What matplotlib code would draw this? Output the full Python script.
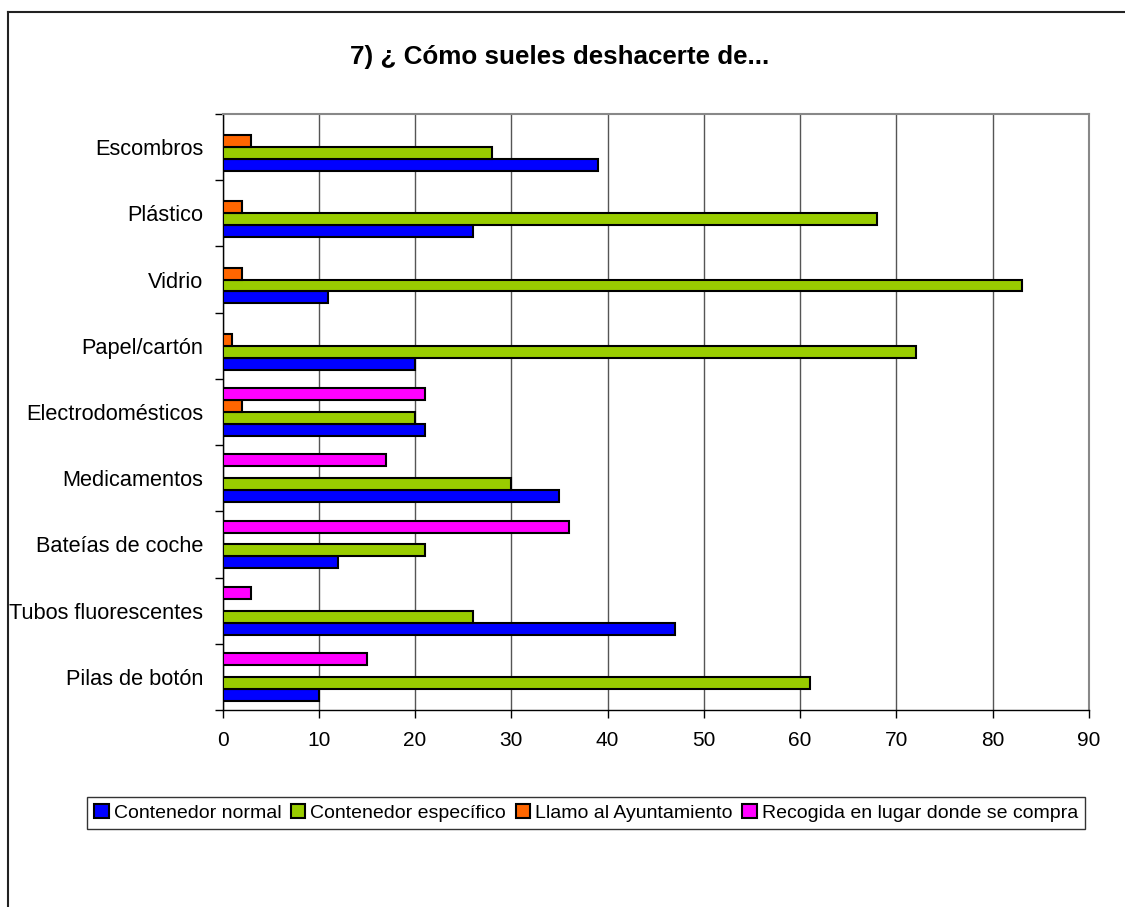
import numpy as np
import matplotlib.pyplot as plt
from matplotlib.lines import Line2D

plt.rcParams['font.family'] = ['Liberation Sans', 'DejaVu Sans']

categorias = ['Escombros', 'Plástico', 'Vidrio', 'Papel/cartón', 'Electrodomésticos',
              'Medicamentos', 'Bateías de coche', 'Tubos fluorescentes', 'Pilas de botón']

# None = sin barra
normal = [39, 26, 11, 20, 21, 35, 12, 47, 10]
especifico = [28, 68, 83, 72, 20, 30, 21, 26, 61]
ayuntamiento = [3, 2, 2, 1, 2, None, None, None, None]
recogida = [None, None, None, None, 21, 17, 36, 3, 15]

series = ['Contenedor normal', 'Contenedor específico', 'Llamo al Ayuntamiento',
          'Recogida en lugar donde se compra']
colores = ['#0000FF', '#99CC00', '#FF6600', '#FF00FF']

fig = plt.figure(figsize=(11.25, 9.07), dpi=100)
ax = fig.add_axes([0.1978, 0.2172, 0.968 - 0.1978, 0.8743 - 0.2172])

n = len(categorias)
pos = np.arange(n)[::-1].astype(float)  # Escombros arriba
h = 0.18
datos = [normal, especifico, ayuntamiento, recogida]
for k, (vals, col, lab) in enumerate(zip(datos, colores, series)):
    ys = [p + (k - 1.5) * h for p, v in zip(pos, vals) if v is not None]
    xs = [v for v in vals if v is not None]
    ax.barh(ys, xs, height=h, color=col, edgecolor='black', linewidth=1.5,
            label=lab, zorder=3)

ax.set_xlim(0, 90)
ax.set_ylim(-0.5, n - 0.5)
ax.set_xticks(np.arange(0, 91, 10))
ax.tick_params(axis='x', labelsize=15, length=6, width=1, direction='out', pad=9)
ax.set_yticks(pos)
ax.set_yticklabels(categorias, fontsize=15.7)
ax.tick_params(axis='y', which='major', length=0, pad=14)
ax.set_yticks(np.arange(n + 1) - 0.5, minor=True)
ax.tick_params(axis='y', which='minor', length=6, width=1, direction='out')
ax.xaxis.grid(True, color='#555555', linewidth=1, zorder=0)
ax.set_axisbelow(True)

for s in ['top', 'right']:
    ax.spines[s].set_color('#888888')
    ax.spines[s].set_linewidth(1.5)
for s in ['left', 'bottom']:
    ax.spines[s].set_color('black')
    ax.spines[s].set_linewidth(1)

fig.text(0.497, 0.937, '7) ¿ Cómo sueles deshacerte de...', ha='center', va='center',
         fontsize=18.7, fontweight='bold')

leg = fig.legend(loc='center', bbox_to_anchor=(0.521, 0.1036), ncol=4, fontsize=14.0,
                 frameon=True, fancybox=False, edgecolor='black', handlelength=0.75,
                 handleheight=0.75, handletextpad=0.25, columnspacing=0.5,
                 borderpad=0.35, borderaxespad=0)
leg.get_frame().set_linewidth(1)

# marco exterior del gráfico
fig.add_artist(Line2D([8 / 1125, 8 / 1125], [0, 1 - 12 / 907], color='#222222', linewidth=1.5))
fig.add_artist(Line2D([8 / 1125, 1], [1 - 12 / 907, 1 - 12 / 907], color='#222222', linewidth=1.5))

fig.savefig('out.png', dpi=100)
